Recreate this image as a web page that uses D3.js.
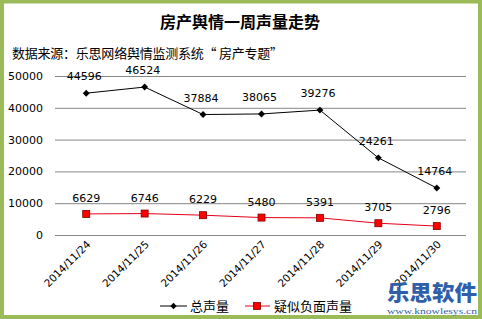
<!DOCTYPE html>
<html><head><meta charset="utf-8">
<script src="https://cdn.jsdelivr.net/npm/d3@7"></script>
<style>body{margin:0;background:#fff}svg{display:block}</style>
</head><body>
<script>
const categories = ["2014/11/24","2014/11/25","2014/11/26","2014/11/27","2014/11/28","2014/11/29","2014/11/30"];
const totalVolume = [44596,46524,37884,38065,39276,24261,14764];
const negativeVolume = [6629,6746,6229,5480,5391,3705,2796];
const yTicks = [0,10000,20000,30000,40000,50000];
const seriesNames = ["总声量","疑似负面声量"];

const W=482,H=319;
const svg=d3.select("body").append("svg").attr("width",W).attr("height",H);
svg.append("rect").attr("width",W).attr("height",H).attr("fill","#fff");
svg.append("rect").attr("x",2).attr("y",1.5).attr("width",W-4).attr("height",H-3.5)
  .attr("fill","none").attr("stroke","#9BBB59").attr("stroke-width",4);

const font="'DejaVu Sans', Verdana, sans-serif";
const cjk="'Noto Sans CJK SC', sans-serif";

svg.append("text").attr("x",240).attr("y",28).attr("text-anchor","middle")
  .attr("font-family",cjk).attr("font-weight","bold").attr("font-size",16).attr("fill","#000")
  .text("房产舆情一周声量走势");
svg.append("text").attr("x",12).attr("y",58)
  .attr("font-family",cjk).attr("font-size",13).attr("fill","#000")
  .attr("textLength",271).attr("lengthAdjust","spacing")
  .text("数据来源：乐思网络舆情监测系统“ 房产专题”");

const x=d3.scaleBand().domain(categories).range([57,466]);
const y=d3.scaleLinear().domain([0,50000]).range([235,76]);
const cx=c=>x(c)+x.bandwidth()/2;

// gridlines
const yAxis=d3.axisLeft(y).tickValues(yTicks).tickSize(-(466-55)).tickFormat(d=>d);
const ga=svg.append("g").attr("transform","translate(55,0)").call(yAxis);
ga.select(".domain").remove();
ga.selectAll(".tick line").attr("stroke","#868686").attr("stroke-width",1);
ga.selectAll(".tick text").attr("x",-12).attr("font-family",font).attr("font-size",11).attr("fill","#000");

// x labels
const xAxis=d3.axisBottom(x).tickSize(0).tickFormat(d=>d);
const gx=svg.append("g").attr("transform","translate(0,235)").call(xAxis);
gx.select(".domain").remove();
gx.selectAll(".tick text").attr("font-family",font).attr("font-size",10.5).attr("fill","#000")
  .attr("text-anchor","end").attr("dy",0).attr("y",0)
  .attr("transform","translate(5,10) rotate(-45)");

const line=d3.line().x((d,i)=>cx(categories[i])).y(d=>y(d));

// total
svg.append("path").datum(totalVolume).attr("d",line).attr("fill","none").attr("stroke","#000").attr("stroke-width",1);
svg.selectAll(".dia").data(totalVolume).enter().append("path")
  .attr("d",d3.symbol().type(d3.symbolSquare).size(24))
  .attr("transform",(d,i)=>`translate(${cx(categories[i])},${y(d)}) rotate(45)`)
  .attr("fill","#000");
// negative
svg.append("path").datum(negativeVolume).attr("d",line).attr("fill","none").attr("stroke","#E3001B").attr("stroke-width",1);
svg.selectAll(".sq").data(negativeVolume).enter().append("rect")
  .attr("x",(d,i)=>cx(categories[i])-3.5).attr("y",d=>y(d)-3.5).attr("width",7).attr("height",7)
  .attr("fill","#FF0000").attr("stroke","#7a0000").attr("stroke-width",0.8);

// labels
svg.selectAll(".lt").data(totalVolume).enter().append("text")
  .attr("x",(d,i)=>cx(categories[i])-2).attr("y",d=>y(d)-13).attr("text-anchor","middle")
  .attr("font-family",font).attr("font-size",11).attr("fill","#000").text(d=>d);
svg.selectAll(".ln").data(negativeVolume).enter().append("text")
  .attr("x",(d,i)=>cx(categories[i])).attr("y",d=>y(d)-12).attr("text-anchor","middle")
  .attr("font-family",font).attr("font-size",11).attr("fill","#000").text(d=>d);

// legend
const lg=svg.append("g");
lg.append("line").attr("x1",160).attr("x2",187).attr("y1",306).attr("y2",306).attr("stroke","#000");
lg.append("path").attr("d",d3.symbol().type(d3.symbolSquare).size(20)).attr("transform","translate(173.5,306) rotate(45)").attr("fill","#000");
lg.append("text").attr("x",190).attr("y",311).attr("font-family",cjk).attr("font-size",13).text(seriesNames[0]);
lg.append("line").attr("x1",245).attr("x2",270).attr("y1",306).attr("y2",306).attr("stroke","#E3001B");
lg.append("rect").attr("x",253.5).attr("y",302.5).attr("width",7).attr("height",7).attr("fill","#FF0000").attr("stroke","#7a0000").attr("stroke-width",0.8);
lg.append("text").attr("x",274).attr("y",311).attr("font-family",cjk).attr("font-size",13).text(seriesNames[1]);

// logo
svg.append("text").attr("x",432).attr("y",300).attr("text-anchor","middle")
  .attr("font-family",cjk).attr("font-weight","900").attr("font-size",21).attr("fill","#2F5FA8")
  .attr("textLength",90).attr("lengthAdjust","spacingAndGlyphs").text("乐思软件");
svg.append("text").attr("x",432).attr("y",314).attr("text-anchor","middle")
  .attr("font-family","'Liberation Serif', serif").attr("font-size",9).attr("fill","#2F5FA8")
  .attr("textLength",90).attr("lengthAdjust","spacingAndGlyphs").text("www.knowlesys.cn");
</script>
</body></html>
